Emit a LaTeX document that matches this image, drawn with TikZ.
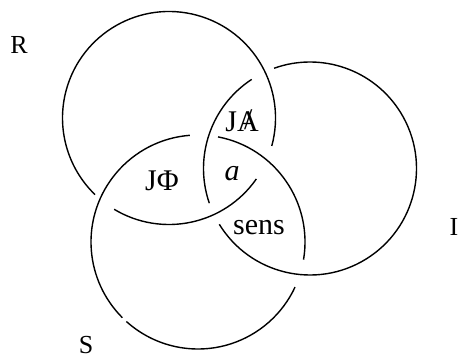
\documentclass[tikz,border=0pt]{standalone}
\usepackage{fontspec}
\setmainfont{Liberation Serif}
\begin{document}
\begin{tikzpicture}[x=1pt,y=1pt,
  ring/.style={line width=1.4pt},
  outerlabel/.style={font=\fontsize{26}{26}\selectfont, inner sep=0pt},
  innerlabel/.style={font=\fontsize{30}{30}\selectfont, inner sep=0pt}]
\useasboundingbox (0,0) rectangle (460,-358);
\coordinate (cR) at (169,-118);
\coordinate (cI) at (310,-168.5);
\coordinate (cS) at (198,-242);
% R
\draw[ring] (cR) ++(-15.2:106.5) arc[start angle=-15.2, end angle=226, radius=106.5];
\draw[ring] (cR) ++(239:106.5) arc[start angle=239, end angle=325.1, radius=106.5];
% I
\draw[ring] (cI) ++(-148.4:106.5) arc[start angle=-148.4, end angle=109.7, radius=106.5];
\draw[ring] (cI) ++(123.2:106.5) arc[start angle=123.2, end angle=199, radius=106.5];
% S
\draw[ring] (cS) ++(-9.5:107) arc[start angle=-9.5, end angle=79.2, radius=107];
\draw[ring] (cS) ++(94.4:107) arc[start angle=94.4, end angle=225, radius=107];
\draw[ring] (cS) ++(228:107) arc[start angle=228, end angle=335.1, radius=107];
% labels
\node[outerlabel] (lR) at (19,-45) {R};
\node[outerlabel] (lI) at (454,-227) {I};
\node[outerlabel] (lS) at (86,-345) {S};
\node[innerlabel] (lJP) at (162,-181) {JΦ};
\node[innerlabel] (la) at (232,-174) {\itshape a};
\node[innerlabel] (lJA) at (242,-121) {J\makebox[0pt][l]{\hspace{0.24em}\raisebox{0.05em}{/}}A};
\node[innerlabel] (lsens) at (259,-228) {sens};
\end{tikzpicture}
\end{document}
